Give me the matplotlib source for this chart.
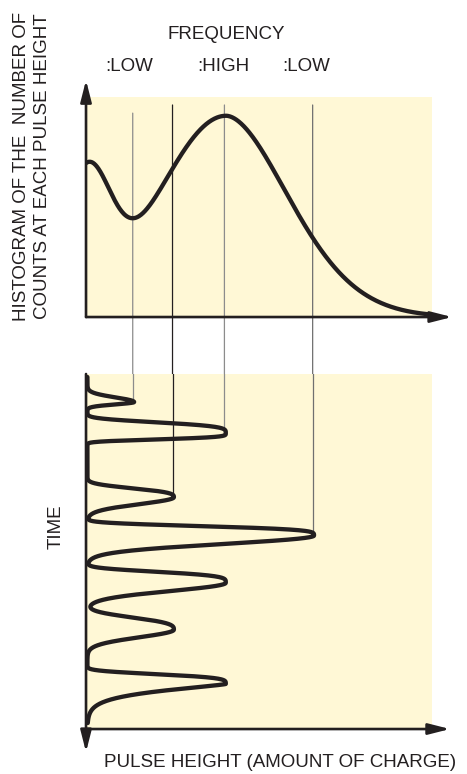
import matplotlib.pyplot as plt
import numpy as np
from matplotlib.patches import ConnectionPatch

plt.rcParams['font.family'] = ['Liberation Sans', 'DejaVu Sans']

INK = '#231f20'
PAPER = '#fff8d6'

# histogram of pulse heights (top panel), shape
hist_left_amp = 58.7
hist_left_width = 9.8
hist_peak_pos = 40.5
hist_peak_amp = 91.5
hist_peak_width_lo = 28.0
hist_peak_width_hi = 26.0
hist_tail_power = 1.8

# pulses along the time axis (bottom panel)
pulse_time = [7.9, 16.7, 34.7, 45.5, 58.8, 72.0, 87.3]
pulse_height = [13.5, 40.0, 25.0, 65.5, 40.0, 25.0, 40.0]
rise_width = [1.84, 3.39, 2.9, 2.91, 3.39, 3.95, 3.02]
rise_power = [2, 4, 3, 4, 4, 3, 4]
decay_width = [0.93, 1.89, 2.74, 3.31, 3.25, 3.02, 2.82]
decay_power = [2, 4, 2, 2, 2, 2, 1.3]

# guide lines: pulse height, start in the histogram, pulse they land on
guide_height = [13.5, 25.0, 40.0, 65.5]
guide_top = [92.7, 96.4, 96.4, 96.4]
guide_pulse = [0, 2, 1, 3]
guide_color = ['#8c8c8c', INK, '#8c8c8c', '#707070']

level_labels = [':LOW', ':HIGH', ':LOW']
level_x = [12.4, 39.7, 63.7]

fig = plt.figure(figsize=(4.67, 7.74), dpi=100)
ax1 = fig.add_axes([0.1842, 0.5904, 0.7409, 0.2842])
ax2 = fig.add_axes([0.1842, 0.0581, 0.7409, 0.4587])

for ax in (ax1, ax2):
    ax.set_facecolor(PAPER)
    ax.set_xlim(0, 100)
    for s in ax.spines.values():
        s.set_visible(False)
    ax.set_xticks([])
    ax.set_yticks([])
ax1.set_ylim(0, 100)
ax2.set_ylim(100, 0)

# top curve
x = np.linspace(0, 99, 500)
d = x - hist_peak_pos
bump = np.where(d < 0,
                hist_peak_amp * np.exp(-(d / hist_peak_width_lo) ** 2),
                hist_peak_amp * np.exp(-np.abs(d / hist_peak_width_hi) ** hist_tail_power))
counts = hist_left_amp * np.exp(-(x / hist_left_width) ** 2) + bump
ax1.plot(x, counts, color=INK, lw=3.1, solid_capstyle='round', zorder=3)

# bottom curve
t = np.linspace(0.85, 98.3, 3000)
h = np.full_like(t, 0.4)
for tp, a, sr, pr, sd, pd in zip(pulse_time, pulse_height, rise_width, rise_power,
                                 decay_width, decay_power):
    dt = t - tp
    h += np.where(dt < 0, a * np.exp(-np.abs(dt / sr) ** pr),
                  a * np.exp(-np.abs(dt / sd) ** pd))
ax2.plot(h, t, color=INK, lw=3.1, solid_capstyle='round', zorder=3)

# guide lines from histogram down to the pulses
for gx, gt, k, c in zip(guide_height, guide_top, guide_pulse, guide_color):
    con = ConnectionPatch(xyA=(gx, gt), coordsA=ax1.transData,
                          xyB=(gx, 0), coordsB=ax2.transData,
                          color=c, lw=0.9, zorder=1)
    ax1.add_artist(con)
    con.set_clip_on(False)
    ax2.plot([gx, gx], [0, pulse_time[k]], color=c, lw=0.9, zorder=1)

# axes with arrows
style = '-|>,head_length=1.3,head_width=0.33'
def arrow(ax, start, end):
    ax.annotate('', xy=end, xytext=start, xycoords='axes fraction',
                textcoords='axes fraction', annotation_clip=False,
                arrowprops=dict(arrowstyle=style, mutation_scale=10, lw=1.9,
                                color=INK, shrinkA=0, shrinkB=0))

arrow(ax1, (0, 0), (0, 1.077))
arrow(ax1, (0, 0), (1.058, 0))
arrow(ax2, (0, 1), (0, -0.065))
arrow(ax2, (0, 0), (1.052, 0))

fs = 13.5
fig.text(0.484, 0.956, 'FREQUENCY', ha='center', va='center', fontsize=fs, color=INK)
for lab, lx in zip(level_labels, level_x):
    ax1.text(lx, 114, lab, ha='center', va='center', fontsize=fs, color=INK,
             clip_on=False)
fig.text(0.046, 0.7855, 'HISTOGRAM OF THE  NUMBER OF', rotation=90,
         ha='center', va='center', fontsize=fs, color=INK)
fig.text(0.0905, 0.7855, 'COUNTS AT EACH PULSE HEIGHT', rotation=90,
         ha='center', va='center', fontsize=fs, color=INK)
fig.text(0.1199, 0.3191, 'TIME', rotation=90, ha='center', va='center',
         fontsize=fs, color=INK)
fig.text(0.5996, 0.0155, 'PULSE HEIGHT (AMOUNT OF CHARGE)', ha='center',
         va='center', fontsize=fs, color=INK)

fig.savefig('out.png', dpi=100)
